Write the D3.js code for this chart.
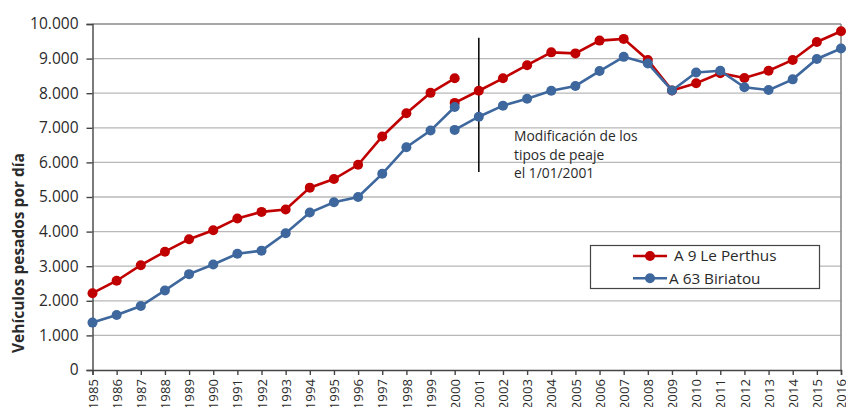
<!DOCTYPE html>
<meta charset="utf-8">
<script src="https://d3js.org/d3.v7.min.js"></script>
<style>
  body { margin: 0; background: #fff; }
  text { font-family: "Open Sans", "Liberation Sans", sans-serif; fill: #2a2a2a; }
</style>
<div id="chart"></div>
<script>

// years on the x axis
var years = d3.range(1985, 2017);

// A 9 Le Perthus, before and after the toll change
var perthusOld = [2220, 2580, 3030, 3420, 3780, 4040, 4380, 4570, 4640, 5270, 5520, 5930, 6750, 7420, 8010, 8430];
var perthusNew = [7720, 8070, 8430, 8810, 9180, 9150, 9520, 9570, 8960, 8080, 8290, 8580, 8440, 8650, 8960, 9480, 9790];

// A 63 Biriatou
var biriatouOld = [1370, 1590, 1850, 2300, 2770, 3050, 3360, 3450, 3950, 4550, 4850, 5000, 5670, 6440, 6920, 7600];
var biriatouNew = [6940, 7320, 7640, 7840, 8070, 8210, 8640, 9050, 8860, 8080, 8600, 8650, 8170, 8090, 8400, 8990, 9290];

var yTicks = [0, 1000, 2000, 3000, 4000, 5000, 6000, 7000, 8000, 9000, 10000];

var series = [
  {name: "A 9 Le Perthus", color: "#c00000", parts: [perthusOld, perthusNew], start: [1985, 2000]},
  {name: "A 63 Biriatou", color: "#3d679d", parts: [biriatouOld, biriatouNew], start: [1985, 2000]}
];

var W = 846, H = 407;
var margin = {left: 92.5, right: 841, top: 24, bottom: 370};

var svg = d3.select("#chart").append("svg")
    .attr("width", W)
    .attr("height", H);

var x = d3.scalePoint()
    .domain(years)
    .range([margin.left, margin.right]);

var y = d3.scaleLinear()
    .domain([0, 10000])
    .range([margin.bottom, margin.top]);

var fmt = function(d) { return d3.format(",")(d).replace(/,/g, "."); };

// grid
svg.append("g")
  .selectAll("line")
  .data(yTicks.slice(1, -1))
  .join("line")
    .attr("x1", margin.left).attr("x2", margin.right)
    .attr("y1", function(d) { return y(d); })
    .attr("y2", function(d) { return y(d); })
    .attr("stroke", "#b8b8b8")
    .attr("stroke-width", 1.3);

// frame top and right
svg.append("line")
    .attr("x1", margin.left).attr("x2", margin.right)
    .attr("y1", margin.top).attr("y2", margin.top)
    .attr("stroke", "#8a8a8a").attr("stroke-width", 1.6);
svg.append("line")
    .attr("x1", margin.right).attr("x2", margin.right)
    .attr("y1", margin.top).attr("y2", margin.bottom)
    .attr("stroke", "#8a8a8a").attr("stroke-width", 1.6);

// y axis
var yAxis = svg.append("g")
    .attr("transform", "translate(" + margin.left + ",0)")
    .call(d3.axisLeft(y).tickValues(yTicks).tickFormat(fmt).tickSize(6).tickPadding(8));
yAxis.selectAll("text").style("font-size", "15.5px");

// x axis
var xAxis = svg.append("g")
    .attr("transform", "translate(0," + margin.bottom + ")")
    .call(d3.axisBottom(x).tickSize(5).tickPadding(4));
xAxis.selectAll("text")
    .style("font-size", "13.2px")
    .attr("text-anchor", "end")
    .attr("transform", "rotate(-90)")
    .attr("x", -9)
    .attr("y", 0)
    .attr("dy", "0.35em");
svg.selectAll(".domain, .tick line").attr("stroke", "#444").attr("stroke-width", 1.4);

// axis title
svg.append("text")
    .attr("transform", "translate(24,253) rotate(-90)")
    .attr("text-anchor", "middle")
    .style("font-size", "15.5px")
    .style("font-weight", "bold")
    .text("Vehículos pesados por día");

// toll change marker
svg.append("line")
    .attr("x1", x(2001)).attr("x2", x(2001))
    .attr("y1", y(9600)).attr("y2", y(5720))
    .attr("stroke", "#000").attr("stroke-width", 1.5);

var note = svg.append("text")
    .attr("x", 514)
    .attr("y", 141)
    .style("font-size", "13.8px");
note.selectAll("tspan")
  .data(["Modificación de los", "tipos de peaje", "el 1/01/2001"])
  .join("tspan")
    .attr("x", 514)
    .attr("dy", function(d, i) { return i ? 18.7 : 0; })
    .text(function(d) { return d; });

// lines + markers
var line = d3.line()
    .x(function(d) { return x(d.year); })
    .y(function(d) { return y(d.v); });

series.forEach(function(s) {
  s.parts.forEach(function(vals, k) {
    var pts = vals.map(function(v, i) { return {year: s.start[k] + i, v: v}; });
    svg.append("path")
        .datum(pts)
        .attr("fill", "none")
        .attr("stroke", s.color)
        .attr("stroke-width", 2.6)
        .attr("d", line);
    svg.append("g")
      .selectAll("circle")
      .data(pts)
      .join("circle")
        .attr("cx", function(d) { return x(d.year); })
        .attr("cy", function(d) { return y(d.v); })
        .attr("r", 5)
        .attr("fill", s.color);
  });
});

// legend
var lg = svg.append("g");
lg.append("rect")
    .attr("x", 590.5).attr("y", 245.5)
    .attr("width", 229).attr("height", 43)
    .attr("fill", "#fff")
    .attr("stroke", "#444").attr("stroke-width", 1.2);
series.forEach(function(s, i) {
  var ly = 256 + i * 22.3;
  lg.append("line")
      .attr("x1", 633).attr("x2", 667)
      .attr("y1", ly).attr("y2", ly)
      .attr("stroke", s.color).attr("stroke-width", 2.6);
  lg.append("circle")
      .attr("cx", 650).attr("cy", ly).attr("r", 5)
      .attr("fill", s.color);
  lg.append("text")
      .attr("x", i ? 669 : 674)
      .attr("y", ly)
      .attr("dy", "0.35em")
      .style("font-size", "15.3px")
      .text(s.name);
});

</script>
